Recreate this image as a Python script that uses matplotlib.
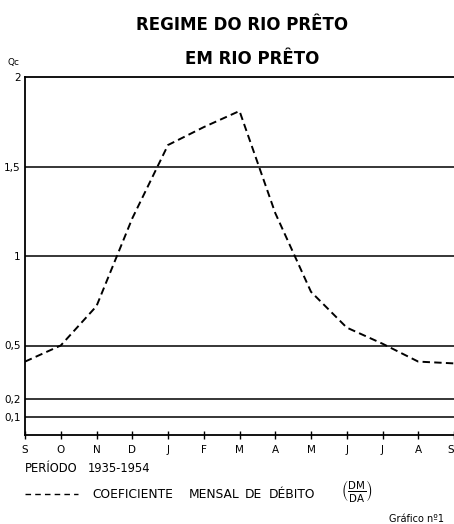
import matplotlib
matplotlib.use('Agg')
import matplotlib.pyplot as plt
from matplotlib.lines import Line2D

months = ['S', 'O', 'N', 'D', 'J', 'F', 'M', 'A', 'M', 'J', 'J', 'A', 'S']
coef = [0.41, 0.50, 0.72, 1.21, 1.62, 1.72, 1.81, 1.24, 0.80, 0.60, 0.51, 0.41, 0.40]
ref_levels = [0.1, 0.2, 0.5, 1, 1.5]
ytick_vals = [0.1, 0.2, 0.5, 1, 1.5, 2]
ytick_labels = ['0,1', '0,2', '0,5', '1', '1,5', '2']

W, H = 454, 524
fig = plt.figure(figsize=(W / 100, H / 100), dpi=100)
ax = fig.add_axes([25 / W, 1 - 435 / H, 429 / W, 358 / H])

x = list(range(len(months)))
ax.plot(x, coef, color='black', lw=1.4, dashes=(3.8, 2.2))
for lev in ref_levels:
    ax.axhline(lev, color='black', lw=1.1)

ax.set_xlim(0, 12)
ax.set_ylim(0, 2)
ax.set_xticks(x)
ax.set_xticklabels(months, fontsize=7.5)
ax.get_xticklabels()[-1].set_horizontalalignment('right')
ax.set_yticks(ytick_vals)
ax.set_yticklabels(ytick_labels, fontsize=7.5)
ax.tick_params(axis='x', direction='inout', length=6, width=1, pad=4)
ax.tick_params(axis='y', length=0, pad=3)
ax.spines['right'].set_visible(False)
for s in ['left', 'bottom', 'top']:
    ax.spines[s].set_linewidth(1.3)

fig.text(242 / W, 1 - 25 / H, 'REGIME DO RIO PRÊTO', ha='center', va='center',
         fontsize=12, fontweight='bold')
fig.text(252 / W, 1 - 59 / H, 'EM RIO PRÊTO', ha='center', va='center',
         fontsize=12, fontweight='bold')
fig.text(13 / W, 1 - 63 / H, 'Qc', ha='center', va='center', fontsize=6.5)

# bottom notes
fig.text(25 / W, 1 - 469 / H, 'PERÍODO', ha='left', va='center', fontsize=8.3)
fig.text(88 / W, 1 - 469 / H, '1935-1954', ha='left', va='center', fontsize=8.3)

# legend sample
fig.add_artist(Line2D([25 / W, 78 / W], [1 - 494 / H, 1 - 494 / H], transform=fig.transFigure,
                      color='black', lw=1.0, dashes=(4, 3)))
for word, xc in [('COEFICIENTE', 133), ('MENSAL', 214), ('DE', 253), ('DÉBITO', 292)]:
    fig.text(xc / W, 1 - 494 / H, word, ha='center', va='center', fontsize=8.8)
fig.text(357 / W, 1 - 492 / H, r'$\left(\frac{\mathrm{DM}}{\mathrm{DA}}\right)$',
         ha='center', va='center', fontsize=10.5)
fig.text(444 / W, 1 - 519 / H, 'Gráfico nº1', ha='right', va='center', fontsize=7)

fig.savefig('out.png', dpi=100)
